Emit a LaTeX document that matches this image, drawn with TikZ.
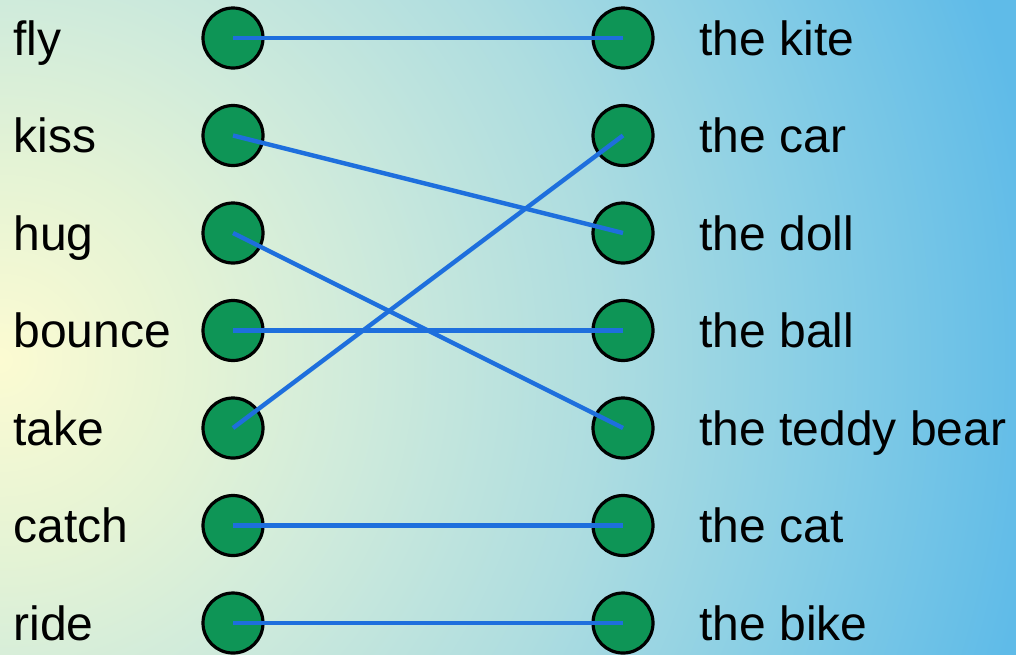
\documentclass[tikz,border=0pt]{standalone}
\usepackage{fontspec}
\setmainfont{Liberation Sans}
\usetikzlibrary{positioning}
\definecolor{dotgreen}{HTML}{0E9556}
\definecolor{linkblue}{HTML}{1E6FDD}
\definecolor{glowyellow}{HTML}{FCFBD2}
\definecolor{glowlime}{HTML}{E4F3D5}
\definecolor{glowmint}{HTML}{D0EBDB}
\definecolor{glowcyan}{HTML}{AEDDE0}
\definecolor{glowsky}{HTML}{88CEE5}
\definecolor{glowblue}{HTML}{5FBBE8}
\pgfdeclareradialshading{glow}{\pgfpoint{0bp}{0bp}}{color(0bp)=(glowyellow); color(4.5bp)=(glowlime); color(8bp)=(glowmint); color(13.6bp)=(glowcyan); color(18.5bp)=(glowsky); color(23.8bp)=(glowblue); color(50bp)=(glowblue)}
\tikzset{
    dot/.style={circle, draw=black, line width=1.6pt, fill=dotgreen, minimum size=30pt, inner sep=0pt},
    word/.style={anchor=base west, inner sep=0pt, font=\fontsize{24}{28}\selectfont},
    link/.style={draw=linkblue, line width=2.2pt},
}

\begin{document}
\begin{tikzpicture}[x=1pt, y=1pt]
    \useasboundingbox (0,0) rectangle (508,-327);
    \begin{scope}
        \clip (0,0) rectangle (508,-327);
        \shade[shading=glow] (0,-180) circle (550);
    \end{scope}

    % verbs on the left
    \foreach \w [count=\i] in {fly, kiss, hug, bounce, take, catch, ride} {
        \node[dot] (l\i) at (116.5, {-19-48.75*(\i-1)}) {};
        \node[word] (v\i) at (6.5, {-27.6-48.75*(\i-1)}) {\w};
    }
    % things on the right
    \foreach \w [count=\i] in {the kite, the car, the doll, the ball, the teddy bear, the cat, the bike} {
        \node[dot] (r\i) at (311.5, {-19-48.75*(\i-1)}) {};
        \node[word] (t\i) at (349.5, {-27.6-48.75*(\i-1)}) {\w};
    }

    \foreach \a/\b in {1/1, 2/3, 3/5, 4/4, 5/2, 6/6, 7/7}
        \draw[link] (l\a.center) -- (r\b.center);
\end{tikzpicture}
\end{document}
